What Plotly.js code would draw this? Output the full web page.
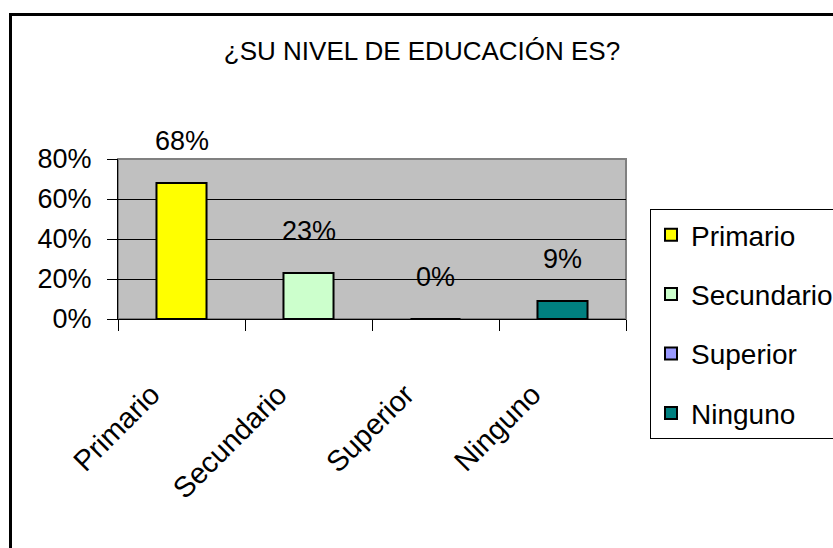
<!DOCTYPE html>
<html>
<head>
<meta charset="utf-8">
<script src="https://cdn.plot.ly/plotly-3.0.1.min.js"></script>
<style>
html,body{margin:0;padding:0;background:#fff;}
#chart{width:833px;height:548px;}
</style>
</head>
<body>
<div id="chart"></div>
<script>
const categories = ["Primario", "Secundario", "Superior", "Ninguno"];
const values = [68, 23, 0, 9];
const valueLabels = ["68%", "23%", "0%", "9%"];
const colors = ["#FFFF00", "#CCFFCC", "#9999FF", "#008080"];
const yTicks = [0, 20, 40, 60, 80];
const yTickLabels = ["0%", "20%", "40%", "60%", "80%"];
const titleText = "¿SU NIVEL DE EDUCACIÓN ES?";

const FONT = "Arial, 'Liberation Sans', sans-serif";

const traces = categories.map((c, i) => ({
  type: "bar",
  name: c,
  x: [c],
  y: [values[i]],
  width: 0.394,
  marker: {color: colors[i], line: {color: "#000", width: 2}},
  legendgroup: "g" + i,
  hoverinfo: "none"
}));

const annotations = categories.map((c, i) => ({
  x: c, y: values[i], xref: "x", yref: "y",
  text: valueLabels[i], showarrow: false,
  yanchor: "bottom", yshift: 25,
  font: {family: FONT, size: 27, color: "#000"}
}));

const L = 118, R = 626, T = 159, B = 319;
const px = v => (v - L) / (R - L);
const py = v => (B - v) / (B - T);

const shapes = [
  {type: "rect", xref: "paper", yref: "paper", x0: 0, x1: 1, y0: 0, y1: 1,
   line: {color: "#808080", width: 2}, layer: "below"},
  {type: "path", xref: "paper", yref: "paper",
   path: `M ${px(10.5)} ${py(560)} L ${px(10.5)} ${py(14.5)} L ${px(900)} ${py(14.5)}`,
   line: {color: "#000", width: 3}}
];

const layout = {
  width: 833, height: 548,
  margin: {l: L, r: 833 - R, t: T, b: 548 - B, autoexpand: false},
  paper_bgcolor: "#fff",
  plot_bgcolor: "#C0C0C0",
  barmode: "overlay",
  showlegend: true,
  title: {
    text: titleText,
    font: {family: FONT, size: 26, color: "#000"},
    x: 422 / 833, xref: "container", xanchor: "center",
    y: 1 - 51 / 548, yref: "container", yanchor: "middle"
  },
  xaxis: {
    type: "category",
    categoryorder: "array", categoryarray: categories,
    range: [-0.5, 3.5],
    showline: true, linecolor: "#000", linewidth: 1,
    ticks: "outside", tickson: "boundaries", ticklen: 11, tickcolor: "#000", tickwidth: 1,
    tickangle: -45,
    ticklabelstandoff: 46,
    ticklabelshift: -30,
    tickfont: {family: FONT, size: 29, color: "#000"},
    showgrid: false, zeroline: false, fixedrange: true
  },
  yaxis: {
    range: [0, 80],
    tickmode: "array", tickvals: yTicks, ticktext: yTickLabels,
    showline: true, linecolor: "#000", linewidth: 1,
    ticks: "outside", ticklen: 10, tickcolor: "#000", tickwidth: 1,
    ticklabelstandoff: 10,
    tickfont: {family: FONT, size: 27, color: "#000"},
    showgrid: true, gridcolor: "#000", gridwidth: 1,
    zeroline: false, fixedrange: true
  },
  legend: {
    x: (650 - L) / (R - L), xanchor: "left",
    y: (B - 209) / (B - T), yanchor: "top",
    bgcolor: "#fff", bordercolor: "#000", borderwidth: 1,
    font: {family: FONT, size: 28, color: "#000"},
    tracegroupgap: 20,
    traceorder: "grouped",
    maxheight: 400
  },
  annotations: annotations,
  shapes: shapes
};

Plotly.newPlot("chart", traces, layout, {staticPlot: true, displayModeBar: false});
</script>
</body>
</html>
